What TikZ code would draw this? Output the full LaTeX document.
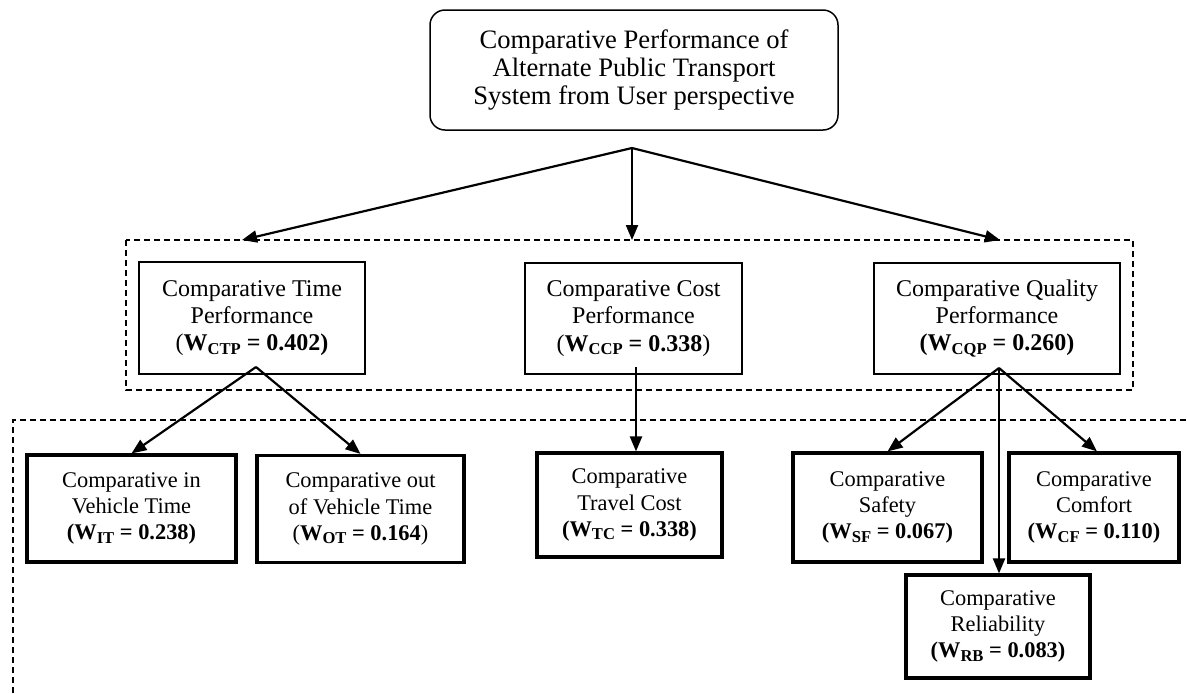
\documentclass[tikz,border=0pt]{standalone}
\usepackage{fontspec}
\setmainfont{Liberation Serif}
\usetikzlibrary{arrows.meta}
\newcommand{\wv}[2]{\textbf{W\raisebox{-0.35ex}{\fontsize{8.3}{9}\selectfont #1} = #2}}
\begin{document}
\begin{tikzpicture}[x=0.5pt,y=-0.5pt,
  every node/.style={align=center, inner sep=0pt},
  topbox/.style={draw, line width=0.75pt, rounded corners=7.5pt, font=\fontsize{13.3}{14}\selectfont},
  midbox/.style={draw, line width=0.75pt, font=\fontsize{12}{13.6}\selectfont},
  leafbox/.style={draw, line width=1.6pt, font=\fontsize{11.2}{13.1}\selectfont},
  conn/.style={line width=1.1pt, -{Triangle[length=7.5pt,width=6pt]}},
  group/.style={line width=0.6pt, dash pattern=on 3pt off 2pt}]
\useasboundingbox (0,0) rectangle (1187,693);
% top
\node[topbox, minimum width=204pt, minimum height=60pt] (top) at (634,70)
  {Comparative Performance of\\Alternate Public Transport\\System from User perspective};
% dashed groups
\draw[group] (126,240) rectangle (1133,390);
\draw[group] (13,693) -- (13,420) -- (1187,420);
% middle
\node[midbox, minimum width=113pt, minimum height=56pt] (ctp) at (252,318)
  {Comparative Time\\Performance\\(\wv{CTP}{0.402}\textbf{)}};
\node[midbox, minimum width=108.5pt, minimum height=55.5pt] (ccp) at (633.5,318.5)
  {Comparative Cost\\Performance\\(\wv{CCP}{0.338})};
\node[midbox, minimum width=123pt, minimum height=55.5pt] (cqp) at (997,318.5)
  {Comparative Quality\\Performance\\\textbf{(}\wv{CQP}{0.260}\textbf{)}};
% leaves
\node[leafbox, minimum width=104.5pt, minimum height=53.5pt] (it) at (131.5,508.5)
  {Comparative in\\Vehicle Time\\\textbf{(}\wv{IT}{0.238}\textbf{)}};
\node[leafbox, minimum width=103.5pt, minimum height=53.5pt] (ot) at (360.5,509)
  {Comparative out\\of Vehicle Time\\(\wv{OT}{0.164})};
\node[leafbox, minimum width=92.5pt, minimum height=52pt] (tc) at (629.5,505)
  {Comparative\\Travel Cost\\\textbf{(}\wv{TC}{0.338}\textbf{)}};
\node[leafbox, minimum width=94.5pt, minimum height=54.5pt] (sf) at (887.5,507.5)
  {Comparative\\Safety\\\textbf{(}\wv{SF}{0.067}\textbf{)}};
\node[leafbox, minimum width=85pt, minimum height=54.5pt] (cf) at (1094,507.5)
  {Comparative\\Comfort\\\textbf{(}\wv{CF}{0.110}\textbf{)}};
\node[leafbox, minimum width=92pt, minimum height=51.5pt] (rb) at (998,626.5)
  {Comparative\\Reliability\\\textbf{(}\wv{RB}{0.083}\textbf{)}};
% junctions
\coordinate (tj) at (632,148);
\coordinate (e1) at (242,240);
\coordinate (e2) at (632,240);
\coordinate (e3) at (1000,240);
\coordinate (ctpj) at (256,367);
\coordinate (ccpj) at (636,367);
\coordinate (cqpj) at (999,368);
% connectors
\draw[conn] (tj) -- (e1);
\draw[conn] (tj) -- (e2);
\draw[conn] (tj) -- (e3);
\draw[conn] (ctpj) -- (it.north);
\draw[conn] (ctpj) -- (ot.north);
\draw[conn] (ccpj) -- (ccpj |- tc.north);
\draw[conn] (cqpj) -- (sf.north);
\draw[conn] (cqpj) -- ([xshift=1.5pt]cf.north);
\draw[conn] (cqpj) -- (cqpj |- rb.north);
\end{tikzpicture}
\end{document}
